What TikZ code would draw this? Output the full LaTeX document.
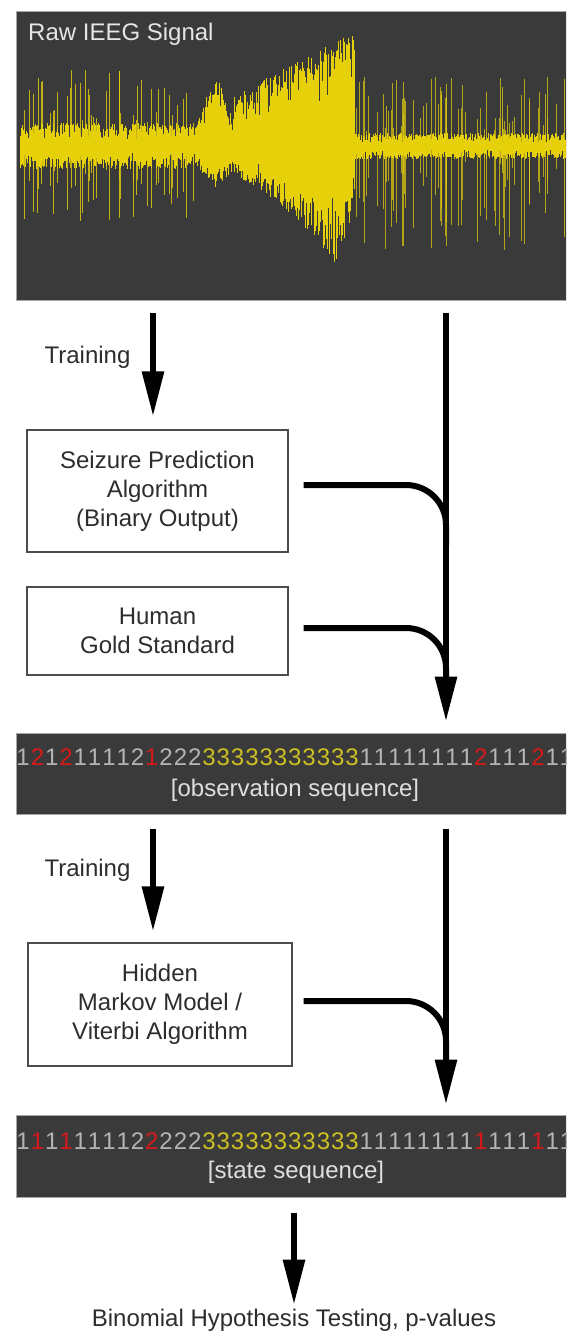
\documentclass[tikz,border=0pt]{standalone}
\usepackage{fontspec}
\setmainfont{Liberation Sans}
\usetikzlibrary{arrows.meta,positioning}
\definecolor{panelbg}{RGB}{58,58,58}
\definecolor{eegyellow}{RGB}{230,208,10}
\definecolor{dg}{RGB}{180,180,180}
\definecolor{dr}{RGB}{215,25,25}
\definecolor{dy}{RGB}{205,192,35}
\definecolor{ink}{RGB}{45,45,45}
\tikzset{
  panel/.style={fill=panelbg,draw=gray!70,line width=1pt,inner sep=0pt},
  box/.style={draw=ink!85,line width=1.2pt,minimum width=261pt,text=ink,align=center,
    font=\fontsize{24}{29}\selectfont},
  lbl/.style={text=ink,font=\fontsize{24}{29}\selectfont,inner sep=0pt},
  digit/.style={font=\fontsize{24}{29}\selectfont,inner sep=0pt},
  flow/.style={line width=6pt,-{Triangle[length=45pt,width=21pt]}},
  feed/.style={line width=6pt,rounded corners=40pt},
  eeg/.style={eegyellow,line width=0.55pt},
}
\begin{document}
\begin{tikzpicture}[x=1pt,y=-1pt]
\useasboundingbox[fill=white] (0,0) rectangle (566,1341);
\begin{scope}
\clip (0,0) rectangle (566,1341);
% raw signal panel
\node[panel,minimum width=552pt,minimum height=289pt] (raw) at (292,155.5) {};
\pgfmathsetseed{42}
% quiet part before the seizure
\foreach \x in {20,20.5,...,196}{
  \pgfmathsetmacro\a{6+17*rnd}
  \pgfmathsetmacro\b{6+17*rnd}
  \draw[eeg] (\x,146-\a) -- (\x,146+\b);
}
% first burst
\foreach \x in {197,197.5,...,234}{
  \pgfmathsetmacro\h{1-abs(\x-216)/19}
  \pgfmathsetmacro\a{(23+52*\h)*(0.45+0.55*rnd)}
  \pgfmathsetmacro\b{(23+19*\h)*(0.45+0.55*rnd)}
  \draw[eeg] (\x,146-\a) -- (\x,146+\b);
}
% seizure
\foreach \x in {234,234.5,...,354}{
  \pgfmathsetmacro\u{50+65*((\x-234)/120)}
  \pgfmathsetmacro\d{\x<334 ? 32+86*((\x-234)/100)^1.5 : 118-2.5*(\x-334)}
  \pgfmathsetmacro\a{\u*(0.4+0.6*rnd)}
  \pgfmathsetmacro\b{\d*(0.4+0.6*rnd)}
  \draw[eeg] (\x,146-\a) -- (\x,146+\b);
}
% quiet part after the seizure
\foreach \x in {355,355.5,...,566}{
  \pgfmathsetmacro\a{3+10*rnd}
  \pgfmathsetmacro\b{3+10*rnd}
  \draw[eeg] (\x,146-\a) -- (\x,146+\b);
}
% spikes
\foreach \k in {1,...,45}{
  \pgfmathsetmacro\x{20+177*rnd}
  \pgfmathsetmacro\a{20+60*rnd}
  \pgfmathsetmacro\b{20+55*rnd}
  \draw[eeg,opacity=0.8] (\x,146-\a) -- (\x,146+\b);
}
\foreach \k in {1,...,70}{
  \pgfmathsetmacro\x{356+210*rnd}
  \pgfmathsetmacro\a{15+55*rnd}
  \pgfmathsetmacro\b{15+90*rnd}
  \draw[eeg,opacity=0.7] (\x,146-\a) -- (\x,146+\b);
}
\node[lbl,text=gray!20,anchor=west] (rawlbl) at (28,34) {Raw IEEG Signal};

% observation panel
\node[panel,minimum width=552pt,minimum height=81pt] (obs) at (292,773.5) {};
\foreach \d/\c [count=\i] in {1/dg,2/dr,1/dg,2/dr,1/dg,1/dg,1/dg,1/dg,2/dg,1/dr,2/dg,2/dg,2/dg,
    3/dy,3/dy,3/dy,3/dy,3/dy,3/dy,3/dy,3/dy,3/dy,3/dy,3/dy,
    1/dg,1/dg,1/dg,1/dg,1/dg,1/dg,1/dg,1/dg,2/dr,1/dg,1/dg,1/dg,2/dr,1/dg,1/dg}
  \node[digit,text=\c] (o\i) at ({16+(\i-0.5)*14.3},757) {\d};
\node[lbl,text=gray!25] (obslbl) at (295,790) {[observation sequence]};

% state panel
\node[panel,minimum width=552pt,minimum height=82pt] (state) at (292,1156) {};
\foreach \d/\c [count=\i] in {1/dg,1/dr,1/dg,1/dr,1/dg,1/dg,1/dg,1/dg,2/dg,2/dr,2/dg,2/dg,2/dg,
    3/dy,3/dy,3/dy,3/dy,3/dy,3/dy,3/dy,3/dy,3/dy,3/dy,3/dy,
    1/dg,1/dg,1/dg,1/dg,1/dg,1/dg,1/dg,1/dg,1/dr,1/dg,1/dg,1/dg,1/dr,1/dg,1/dg}
  \node[digit,text=\c] (s\i) at ({16+(\i-0.5)*14.3},1141) {\d};
\node[lbl,text=gray!25] (statelbl) at (296,1172) {[state sequence]};
\end{scope}

% boxes
\node[box,minimum height=122pt] (spa) at (157.5,491) {Seizure Prediction\\Algorithm\\(Binary Output)};
\node[box,minimum height=88pt] (gold) at (157.5,631) {Human\\Gold Standard};
\node[box,minimum width=264pt,minimum height=123pt] (hmm) at (160,1004.5) {Hidden\\Markov Model /\\Viterbi Algorithm};

\node[lbl] (train1) at (87.5,357) {Training};
\node[lbl] (train2) at (87.5,870) {Training};
\node[lbl] (result) at (294,1320) {Binomial Hypothesis Testing, p-values};

\coordinate (lane) at (153,0);
\coordinate (bus) at (446,0);
\coordinate (m1) at (446,545);
\coordinate (m2) at (446,680);
\coordinate (m3) at (446,1062);

% connectors
\draw[feed] ([shift={(15pt,6pt)}]spa.east) -| (m1);
\draw[feed] ([shift={(15pt,3pt)}]gold.east) -| (m2);
\draw[feed] ([shift={(11pt,3.5pt)}]hmm.east) -| (m3);
\draw[flow,shorten <=12pt,shorten >=13pt] (raw.south -| lane) -- (spa.north -| lane);
\draw[flow,shorten <=12pt,shorten >=11pt] (raw.south -| bus) -- (obs.north -| bus);
\draw[flow,shorten <=14pt,shorten >=11pt] (obs.south -| lane) -- (hmm.north -| lane);
\draw[flow,shorten <=14pt,shorten >=10pt] (obs.south -| bus) -- (state.north -| bus);
\draw[flow,shorten <=15pt,shorten >=4pt] (state.south -| result) -- (result.north);
\end{tikzpicture}
\end{document}
